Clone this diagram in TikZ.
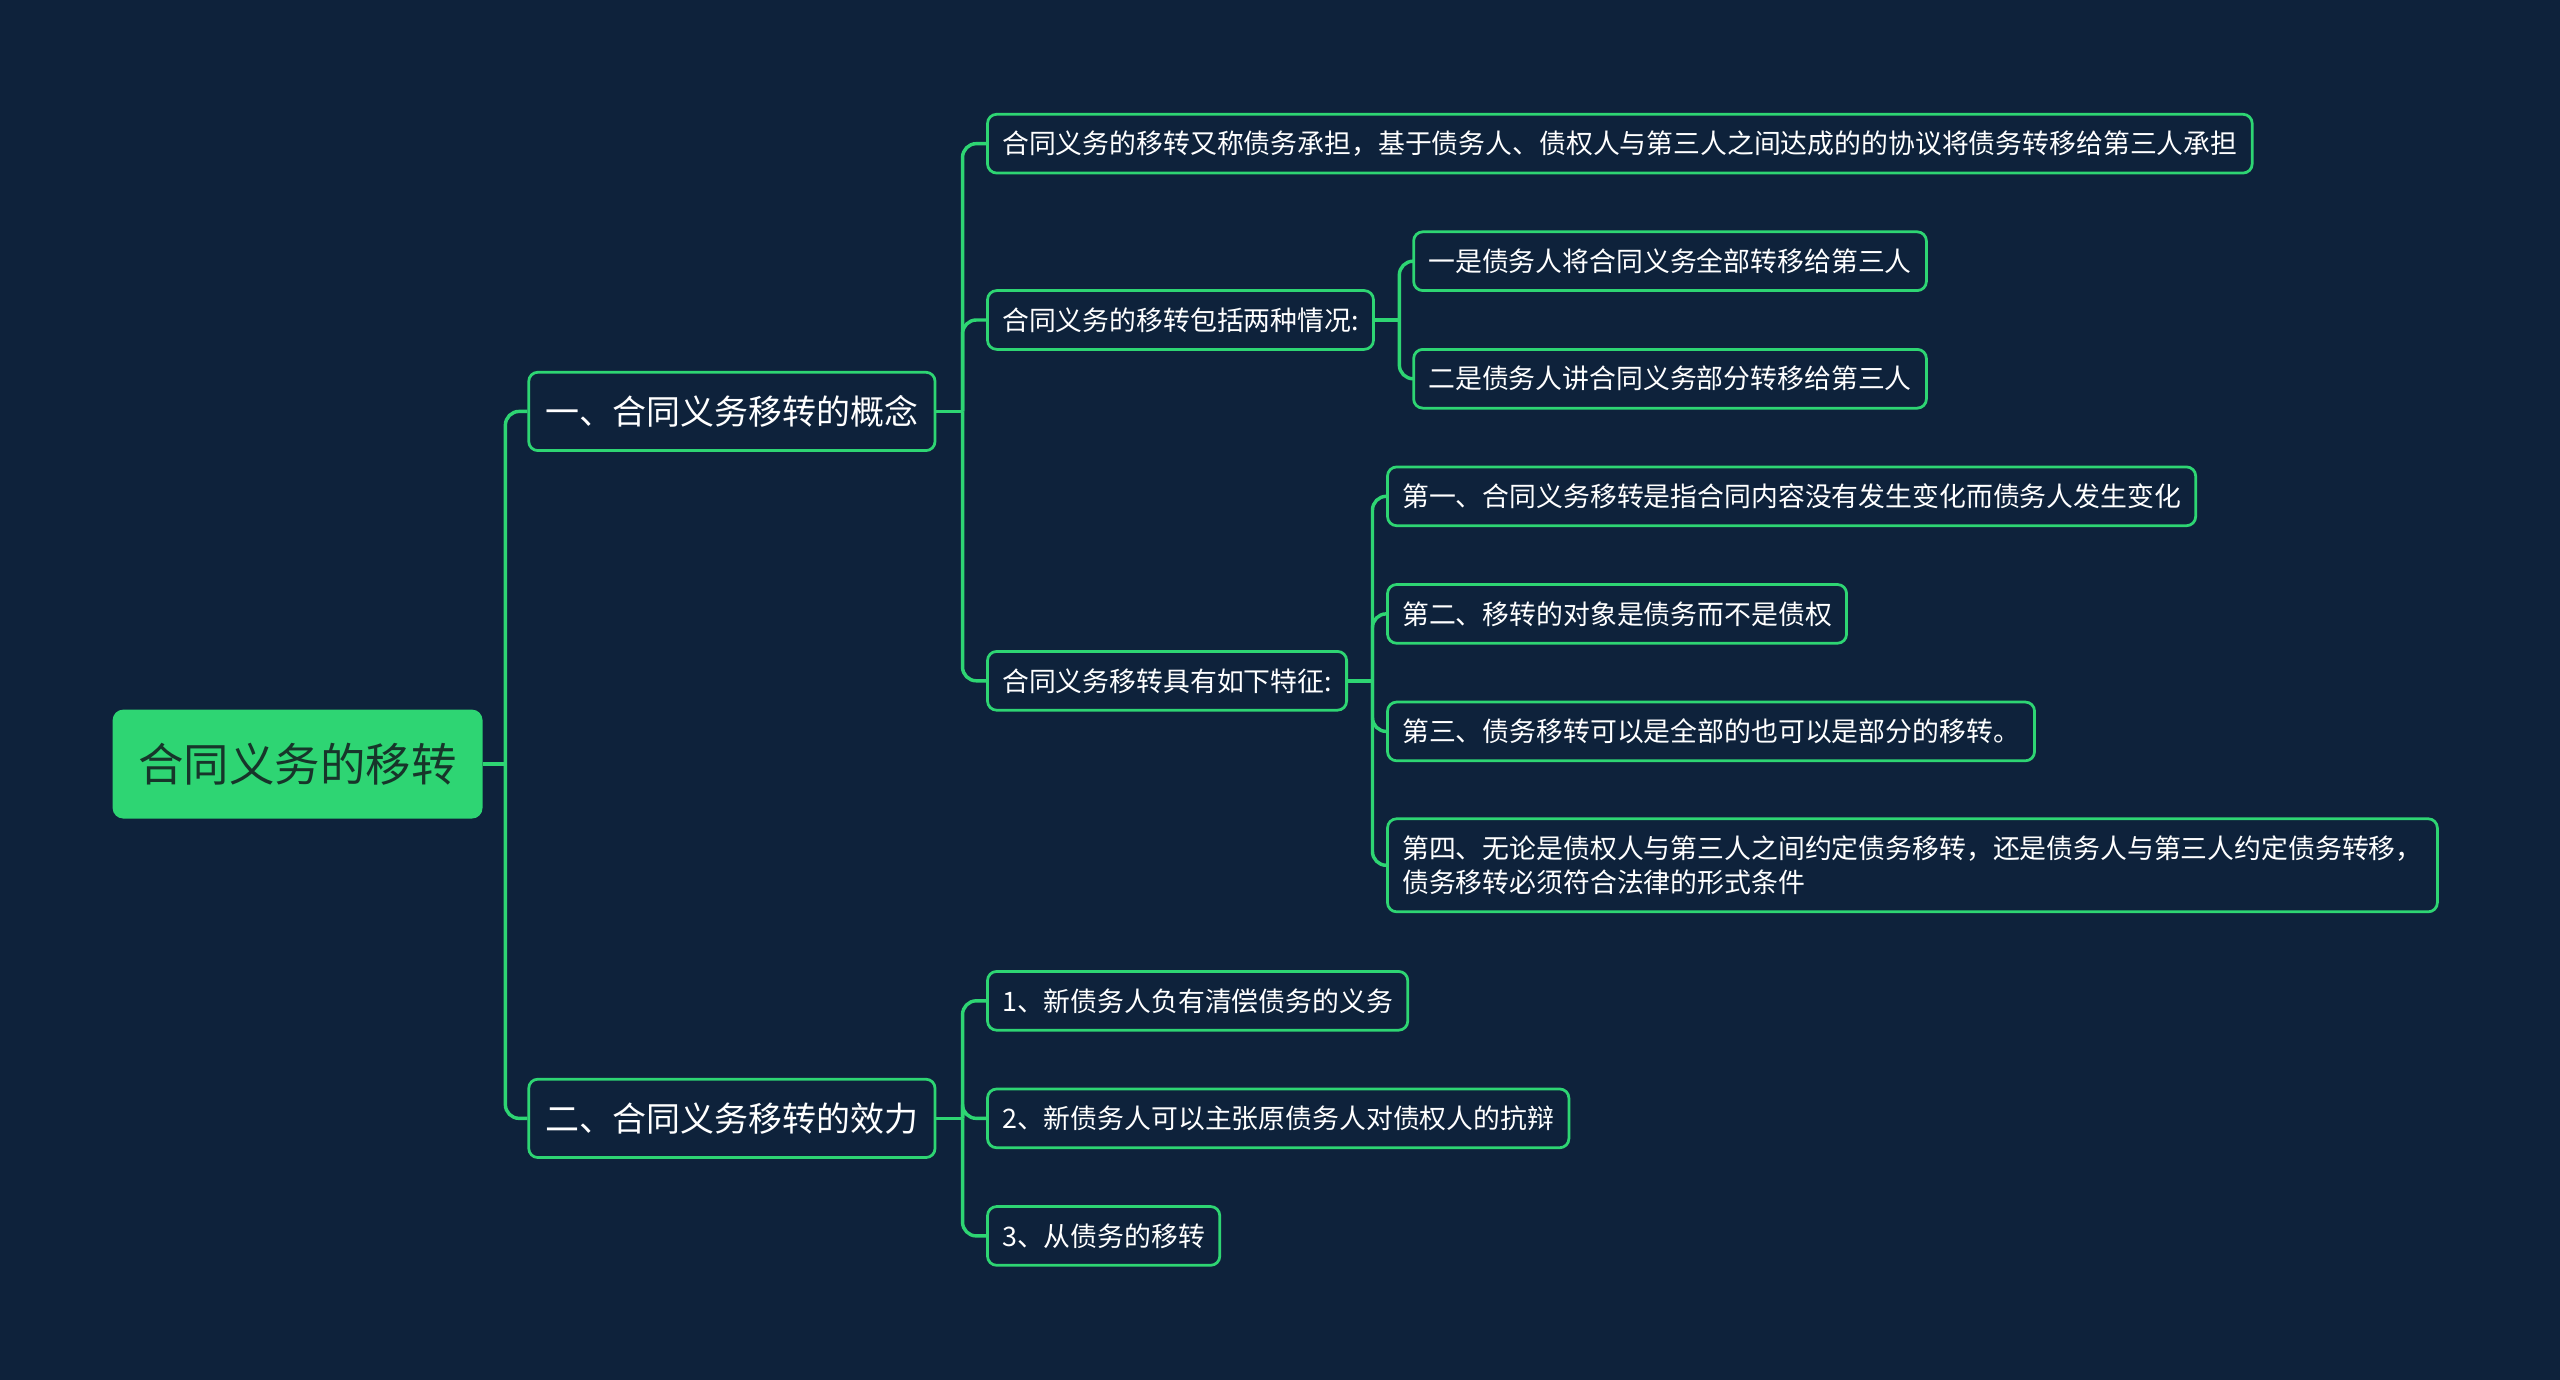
\documentclass[tikz,border=0pt]{standalone}
\usepackage{fontspec}
\newfontfamily\cjk{Noto Sans CJK SC}
\definecolor{mmbg}{HTML}{0E223B}
\definecolor{mmgreen}{HTML}{2ED573}
\definecolor{mmdark}{HTML}{17352A}
\begin{document}
\begin{tikzpicture}[
  x=1cm,y=1cm,
  box/.style={draw=mmgreen, fill=mmbg, rounded corners=4pt, line width=1.2pt,
              text=white, anchor=west, align=left, inner xsep=0.225cm,
              inner ysep=0pt, minimum height=0.9cm,
              font=\cjk\fontsize{11.7}{14.9}\selectfont},
  topic/.style={box, minimum height=1.2cm, inner xsep=0.25cm,
                font=\cjk\fontsize{14.8}{18}\selectfont},
  main/.style={box, fill=mmgreen, text=mmdark, minimum height=1.625cm,
               inner xsep=0.375cm, font=\cjk\fontsize{19.8}{24}\selectfont},
  link/.style={draw=mmgreen, line width=1.5pt},
  turn/.style={link, rounded corners=6pt}
]
  \fill[mmbg] (0,0) rectangle (39.2,21.125);
  \useasboundingbox (0,0) rectangle (39.2,21.125);

  \node[main] (root) at (1.725,9.425) {合同义务的移转};

  \node[topic] (concept) at (8.075,14.825) {一、合同义务移转的概念};
  \node[topic] (effect) at (8.075,4.0) {二、合同义务移转的效力};

  % concept branch
  \node[box] (define) at (15.1,18.925)
    {合同义务的移转又称债务承担，基于债务人、债权人与第三人之间达成的的协议将债务转移给第三人承担};
  \node[box] (cases) at (15.1,16.225) {合同义务的移转包括两种情况:};
  \node[box] (traits) at (15.1,10.7) {合同义务移转具有如下特征:};

  \node[box] (whole) at (21.625,17.125) {一是债务人将合同义务全部转移给第三人};
  \node[box] (part) at (21.625,15.325) {二是债务人讲合同义务部分转移给第三人};

  \node[box] (tr1) at (21.225,13.525) {第一、合同义务移转是指合同内容没有发生变化而债务人发生变化};
  \node[box] (tr2) at (21.225,11.725) {第二、移转的对象是债务而不是债权};
  \node[box] (tr3) at (21.225,9.925) {第三、债务移转可以是全部的也可以是部分的移转。};
  \node[box, minimum height=1.425cm] (tr4) at (21.225,7.875)
    {第四、无论是债权人与第三人之间约定债务移转，还是债务人与第三人约定债务转移，\\债务移转必须符合法律的形式条件};

  % effect branch
  \node[box] (ef1) at (15.1,5.8) {1、新债务人负有清偿债务的义务};
  \node[box] (ef2) at (15.1,4.0) {2、新债务人可以主张原债务人对债权人的抗辩};
  \node[box] (ef3) at (15.1,2.2) {3、从债务的移转};

  % joints
  \coordinate (jroot) at ([xshift=0.35cm]root.east);
  \coordinate (jconcept) at ([xshift=0.4cm]concept.east);
  \coordinate (jeffect) at ([xshift=0.4cm]effect.east);
  \coordinate (jcases) at ([xshift=0.375cm]cases.east);
  \coordinate (jtraits) at ([xshift=0.375cm]traits.east);

  \draw[link] (root.east) -- (jroot);
  \draw[turn] (jroot) |- (concept.west);
  \draw[turn] (jroot) |- (effect.west);

  \draw[link] (concept.east) -- (jconcept);
  \foreach \n in {define,cases,traits}
    \draw[turn] (jconcept) |- (\n.west);

  \draw[link] (cases.east) -- (jcases);
  \foreach \n in {whole,part}
    \draw[turn] (jcases) |- (\n.west);

  \draw[link] (traits.east) -- (jtraits);
  \foreach \n in {tr1,tr2,tr3,tr4}
    \draw[turn] (jtraits) |- (\n.west);

  \draw[link] (effect.east) -- (jeffect);
  \foreach \n in {ef1,ef2,ef3}
    \draw[turn] (jeffect) |- (\n.west);
\end{tikzpicture}
\end{document}
